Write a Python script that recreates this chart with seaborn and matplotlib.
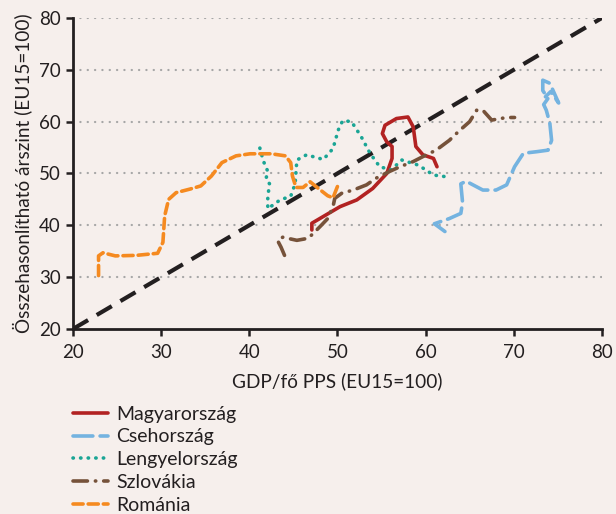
import matplotlib
matplotlib.use("Agg")
import matplotlib.pyplot as plt
import seaborn as sns
import pandas as pd

# ========== Adatok (leolvasva az ábráról) ==========
hu_x = [47.1, 47.1, 48.0, 50.3, 52.2, 54.0, 55.6, 56.2, 56.2, 55.6, 55.1, 55.4, 56.7, 58.0, 58.6, 58.9, 59.7, 60.9, 61.3]
hu_y = [39.1, 40.4, 41.3, 43.6, 44.9, 47.1, 50.0, 52.9, 55.2, 56.1, 57.7, 59.3, 60.6, 60.9, 59.0, 55.2, 53.6, 52.9, 51.3]

cz_x = [62.2, 61.0, 62.7, 64.0, 64.2, 64.0, 64.6, 66.5, 68.0, 69.2, 70.1, 71.1, 72.6, 73.9, 74.3, 74.1, 73.7, 73.4, 73.9, 73.3, 73.3, 74.1, 74.6, 75.1, 74.2, 73.6]
cz_y = [38.8, 40.3, 41.3, 42.3, 44.4, 48.0, 48.5, 46.8, 46.8, 47.8, 51.3, 53.9, 54.2, 54.5, 56.4, 59.7, 62.2, 63.3, 64.5, 66.0, 68.0, 67.4, 65.5, 63.6, 65.8, 64.8]

pl_x = [41.2, 41.6, 42.1, 41.9, 42.3, 42.1, 42.1, 43.5, 44.7, 45.2, 45.4, 46.5, 48.4, 49.5, 50.1, 50.6, 51.6, 52.7, 53.7, 54.8, 56.1, 57.3, 59.2, 60.9, 62.2]
pl_y = [54.9, 52.4, 50.4, 49.0, 48.0, 45.5, 43.2, 44.9, 45.6, 48.0, 52.6, 53.6, 52.7, 54.8, 58.4, 60.2, 60.0, 57.1, 53.9, 51.3, 50.7, 52.6, 51.6, 49.7, 49.4]

sk_x = [44.0, 43.6, 43.2, 43.8, 45.4, 46.7, 48.0, 48.9, 49.5, 49.7, 50.5, 51.8, 53.3, 54.4, 55.8, 57.1, 58.6, 60.1, 61.2, 62.7, 63.8, 65.0, 65.8, 66.5, 67.5, 69.2, 70.1]
sk_y = [34.2, 35.8, 37.1, 37.7, 37.1, 37.5, 39.7, 41.3, 43.6, 45.2, 46.2, 46.8, 47.8, 49.1, 50.3, 51.3, 52.3, 53.6, 54.5, 56.4, 58.2, 60.0, 62.2, 62.2, 60.3, 60.8, 60.8]

ro_x = [22.9, 22.9, 23.4, 24.8, 27.2, 29.6, 30.2, 30.4, 30.85, 31.7, 33.3, 34.5, 35.7, 36.9, 38.5, 40.1, 42.5, 44.1, 44.7, 44.9, 45.3, 46.1, 46.9, 47.7, 48.9, 49.5, 50.1]
ro_y = [30.3, 34.1, 34.7, 34.1, 34.2, 34.6, 36.7, 41.8, 45.0, 46.3, 47.0, 47.6, 49.5, 52.1, 53.4, 53.8, 53.8, 53.4, 52.1, 49.5, 47.3, 47.3, 48.4, 47.3, 45.7, 45.3, 47.9]

countries = ["Magyarország", "Csehország", "Lengyelország", "Szlovákia", "Románia"]
colors = ["#b22222", "#74b3e0", "#1aa595", "#76523a", "#f58a20"]

# ========== Ábra ==========
sns.set_style("ticks")
plt.rcParams["font.family"] = ["Lato", "DejaVu Sans"]
bg = "#f6efec"
ink = "#231f20"

fig = plt.figure(figsize=(6.16, 5.14), dpi=100, facecolor=bg)
ax = fig.add_axes([0.1185, 0.360, 0.8585, 0.605])
ax.set_facecolor(bg)

for yy in [30, 40, 50, 60, 70, 80]:
    ax.axhline(yy, color="#a6a6a6", lw=1.6, dashes=(0.1, 3.2), dash_capstyle="round", zorder=0)

diag = pd.DataFrame({"x": [20, 80], "y": [20, 80]})
sns.lineplot(data=diag, x="x", y="y", ax=ax, color=ink, lw=3, zorder=2)
ax.lines[-1].set_dashes((4.2, 2.4))

styles = [
    dict(ls="-"),
    dict(dashes=(5.5, 2.0)),
    dict(dashes=(0.1, 2.0)),
    dict(dashes=(4.0, 2.2, 0.1, 2.2)),
    dict(dashes=(2.8, 1.4)),
]

data = [(hu_x, hu_y), (cz_x, cz_y), (pl_x, pl_y), (sk_x, sk_y), (ro_x, ro_y)]
for name, col, st, (xs, ys) in zip(countries, colors, styles, data):
    df = pd.DataFrame({"x": xs, "y": ys})
    sns.lineplot(data=df, x="x", y="y", ax=ax, sort=False, estimator=None,
                 color=col, lw=2.6, label=name, zorder=3)
    ln = ax.lines[-1]
    if "dashes" in st:
        ln.set_dashes(st["dashes"])
        ln.set_dash_capstyle("round")
    ln.set_solid_capstyle("round")
    ln.set_solid_joinstyle("round")

ax.set_xlim(20, 80)
ax.set_ylim(20, 80)
ax.set_xticks(range(20, 81, 10))
ax.set_yticks(range(20, 81, 10))
ax.tick_params(labelsize=13.5, width=1.8, length=5, color=ink, labelcolor=ink)
ax.tick_params(axis="x", pad=6)
ax.tick_params(axis="y", pad=4)
for s in ["top", "right"]:
    ax.spines[s].set_visible(False)
for s in ["left", "bottom"]:
    ax.spines[s].set_linewidth(2)
    ax.spines[s].set_color(ink)
ax.set_xlabel("GDP/fő PPS (EU15=100)", fontsize=13.7, color=ink, labelpad=8)
ax.set_ylabel("Összehasonlítható árszint (EU15=100)", fontsize=13.7, color=ink, labelpad=5)

ax.legend(loc="upper left", bbox_to_anchor=(-0.018, -0.215), frameon=False, fontsize=14,
          handlelength=1.8, handletextpad=0.4, labelspacing=0.3, borderpad=0,
          labelcolor=ink)

fig.savefig("out.png", dpi=100, facecolor=bg)
